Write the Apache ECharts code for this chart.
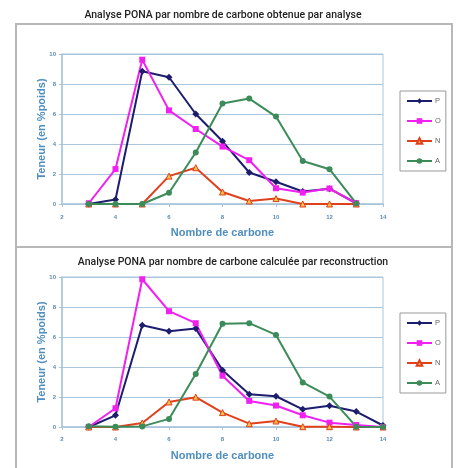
<!DOCTYPE html>
<html><head><meta charset="utf-8">
<script src="https://cdn.jsdelivr.net/npm/echarts@6/dist/echarts.min.js"></script>
<style>html,body{margin:0;padding:0;background:#fff}#c{width:457px;height:468px}</style>
</head><body><div id="c"></div>
<script>
// Top chart: obtained by analysis
const carbonTop = [3,4,5,6,7,8,9,10,11,12,13];
const pTop = [0,0.3,8.85,8.45,6.0,4.18,2.1,1.48,0.83,1.02,0.05];
const oTop = [0.05,2.33,9.62,6.24,5.0,3.83,2.92,1.05,0.76,1.03,0.05];
const nTop = [0,0,0,1.86,2.42,0.8,0.2,0.36,0,0,0];
const aTop = [0,0,0,0.75,3.43,6.7,7.03,5.83,2.87,2.32,0.04];
// Bottom chart: calculated by reconstruction
const carbonBot = [3,4,5,6,7,8,9,10,11,12,13,14];
const pBot = [0,0.78,6.78,6.38,6.56,3.79,2.19,2.05,1.18,1.41,1.03,0.1];
const oBot = [0,1.25,9.85,7.72,6.92,3.42,1.74,1.43,0.78,0.29,0.13,0];
const nBot = [0,0,0.27,1.67,1.99,0.96,0.22,0.4,0.02,0.02,0,0];
const aBot = [0.05,0.02,0.04,0.54,3.53,6.88,6.92,6.14,2.97,2.03,0.02,0];
const xTicks = [2,4,6,8,10,12,14];
const yTicks = [0,2,4,6,8,10];
const titles = ['Analyse PONA par nombre de carbone obtenue par analyse','Analyse PONA par nombre de carbone calculée par reconstruction'];
const seriesNames = ['P','O','N','A'];

const colP='#1d1d6e', colO='#f020f0', colN='#e0401c', colA='#3c8c5a';
const gridCol='#a9c6dc', labCol='#5a8cb4', nameCol='#4f8ec0';
function zip(xs, ys){ return xs.map((x,i)=>[x, ys[i]]); }

function mkX(idx){ return {gridIndex:idx,type:'value',min:xTicks[0],max:xTicks[xTicks.length-1],interval:2,
  name:'Nombre de carbone',nameLocation:'middle',nameGap:23,
  nameTextStyle:{color:nameCol,fontSize:11,fontWeight:'bold',fontFamily:'Liberation Sans'},
  axisLine:{show:true,lineStyle:{color:gridCol,width:1.5}},axisTick:{show:true,length:3,lineStyle:{color:gridCol}},
  axisLabel:{color:labCol,fontSize:6,fontWeight:'bold',margin:idx===0?10:9},splitLine:{show:false}}; }
function mkY(idx){ return {gridIndex:idx,type:'value',min:yTicks[0],max:yTicks[yTicks.length-1],interval:2,
  name:'Teneur (en %poids)',nameLocation:'middle',nameGap:15,nameRotate:90,nameMoveOverlap:false,
  nameTextStyle:{color:nameCol,fontSize:11,fontWeight:'bold',fontFamily:'Liberation Sans'},
  axisLine:{show:true,lineStyle:{color:gridCol,width:1.5}},axisTick:{show:true,length:3,lineStyle:{color:gridCol}},
  axisLabel:{color:labCol,fontSize:6,fontWeight:'bold',margin:6},
  splitLine:{show:true,lineStyle:{color:gridCol,width:1}}}; }
function mkSeries(idx, xs, p, o, n, a){
  const base={type:'line',xAxisIndex:idx,yAxisIndex:idx,animation:false};
  return [
    Object.assign({},base,{name:'P',data:zip(xs,p),symbol:'diamond',symbolSize:7,lineStyle:{color:colP,width:2},itemStyle:{color:colP}}),
    Object.assign({},base,{name:'O',data:zip(xs,o),symbol:'rect',symbolSize:6,lineStyle:{color:colO,width:2},itemStyle:{color:colO}}),
    Object.assign({},base,{name:'N',data:zip(xs,n),symbol:'triangle',symbolSize:6,lineStyle:{color:colN,width:2},itemStyle:{color:'#f6c048',borderColor:colN,borderWidth:1}}),
    Object.assign({},base,{name:'A',data:zip(xs,a),symbol:'circle',symbolSize:6,lineStyle:{color:colA,width:2},itemStyle:{color:colA}})
  ];
}
function mkLegend(top){ return {data:seriesNames,orient:'vertical',left:400,top:top,itemWidth:25,itemHeight:7,itemGap:12,
  padding:[6,5,6,6],borderColor:'#999',borderWidth:1,backgroundColor:'#fff',
  textStyle:{fontSize:7.5,color:'#666',padding:[0,0,0,-2]},selectedMode:false}; }

const chart = echarts.init(document.getElementById('c'),null,{renderer:'canvas'});
chart.setOption({
  animation:false,
  backgroundColor:'#fff',
  graphic:[
    {type:'polyline',shape:{points:[[16,468],[16,24],[452,24],[452,468]]},style:{stroke:'#b8b8b8',lineWidth:2,fill:null}},
    {type:'line',shape:{x1:16,y1:247,x2:452,y2:247},style:{stroke:'#b8b8b8',lineWidth:2}}
  ],
  title:[
    {text:titles[0],left:218,top:5,textAlign:'center',textStyle:{fontSize:10.5,fontWeight:500,color:'#222',fontFamily:'Roboto'}},
    {text:titles[1],left:228,top:252,textAlign:'center',textStyle:{fontSize:10.5,fontWeight:500,color:'#222',fontFamily:'Roboto'}}
  ],
  legend:[mkLegend(91),mkLegend(313)],
  grid:[
    {left:62,top:54,width:321,height:150,show:true,borderColor:gridCol,borderWidth:1,backgroundColor:'transparent'},
    {left:62,top:277,width:321,height:150,show:true,borderColor:gridCol,borderWidth:1,backgroundColor:'transparent'}
  ],
  xAxis:[mkX(0),mkX(1)],
  yAxis:[mkY(0),mkY(1)],
  series:[].concat(mkSeries(0,carbonTop,pTop,oTop,nTop,aTop), mkSeries(1,carbonBot,pBot,oBot,nBot,aBot))
});
</script></body></html>
